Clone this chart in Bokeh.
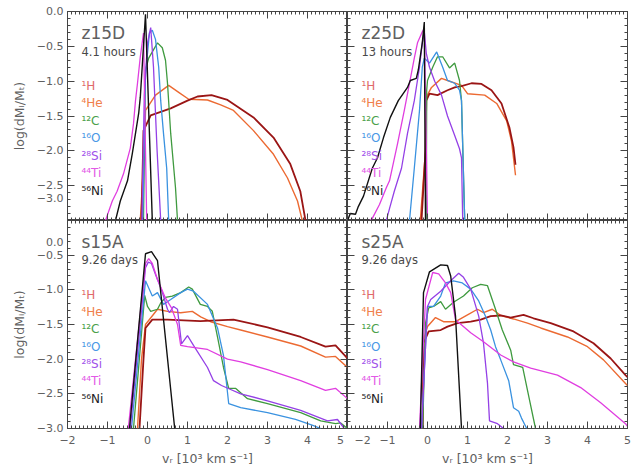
from bokeh.plotting import figure
from bokeh.layouts import gridplot
from bokeh.models import Range1d, LinearAxis, SingleIntervalTicker, CustomJSTickFormatter, Label
from bokeh.embed import file_html
from bokeh.resources import INLINE

# ---------------- data ----------------
species_labels = ["¹H", "⁴He", "¹²C", "¹⁶O", "²⁸Si", "⁴⁴Ti", "⁵⁶Ni"]
panel_names = ["z15D", "z25D", "s15A", "s25A"]
panel_times = ["4.1 hours", "13 hours", "9.26 days", "9.26 days"]

# z15D
z15d_h_v = [-0.15, -0.10, 0.08, 0.58, 1.0, 1.25, 1.6, 2.0, 2.65, 3.15, 3.57, 3.82, 3.95]
z15d_h_m = [-3.0, -1.71, -1.49, -1.39, -1.28, -1.22, -1.2, -1.27, -1.52, -1.81, -2.19, -2.58, -3.0]
z15d_he_v = [-0.18, -0.08, -0.05, 0.2, 0.53, 0.78, 1.03, 1.5, 1.83, 2.15, 2.65, 3.15, 3.5, 3.75, 3.87]
z15d_he_m = [-3.0, -2.0, -1.42, -1.2, -1.06, -1.16, -1.26, -1.27, -1.34, -1.42, -1.71, -2.05, -2.39, -2.72, -3.0]
z15d_c_v = [-0.10, -0.05, 0.03, 0.25, 0.37, 0.45, 0.5, 0.58, 0.7, 0.75]
z15d_c_m = [-3.0, -0.84, -0.67, -0.45, -0.52, -0.7, -1.03, -1.75, -2.53, -3.0]
z15d_o_v = [-0.12, -0.05, 0.05, 0.12, 0.2, 0.28, 0.33, 0.4, 0.48, 0.53]
z15d_o_m = [-3.0, -0.9, -0.3, -0.27, -0.4, -0.8, -1.28, -1.75, -2.25, -3.0]
z15d_si_v = [-0.14, -0.08, 0.0, 0.08, 0.15, 0.24, 0.33]
z15d_si_m = [-3.0, -1.2, -0.45, -0.23, -0.8, -2.0, -3.0]
z15d_ti_v = [-1.05, -0.88, -0.76, -0.6, -0.43, -0.35, -0.3, -0.25, -0.18, -0.1, -0.02]
z15d_ti_m = [-3.0, -2.72, -2.58, -2.33, -1.96, -1.61, -1.28, -1.03, -0.65, -0.31, -3.0]
z15d_ni_v = [-0.8, -0.68, -0.5, -0.38, -0.3, -0.22, -0.18, -0.05, 0.12]
z15d_ni_m = [-3.0, -2.72, -2.43, -2.04, -1.75, -1.46, -1.23, -0.04, -3.0]

# z25D
z25d_h_v = [-0.15, -0.05, -0.03, 0.05, 0.25, 0.5, 0.68, 0.85, 1.1, 1.35, 1.6, 1.85, 2.05, 2.15, 2.2]
z25d_h_m = [-3.0, -2.0, -1.28, -1.18, -1.2, -1.13, -1.09, -1.07, -1.03, -1.04, -1.13, -1.32, -1.67, -1.95, -2.2]
z25d_he_v = [-0.18, -0.05, -0.03, 0.1, 0.35, 0.5, 0.85, 1.0, 1.43, 1.73, 1.98, 2.1, 2.15, 2.2]
z25d_he_m = [-3.0, -2.0, -1.23, -1.09, -0.96, -0.99, -1.06, -1.18, -1.2, -1.32, -1.57, -1.86, -2.1, -2.35]
z25d_c_v = [-0.03, -0.02, 0.0, 0.13, 0.25, 0.38, 0.55, 0.68, 0.8, 0.85, 0.93]
z25d_c_m = [-3.0, -1.13, -0.99, -0.8, -0.65, -0.65, -0.81, -0.74, -0.99, -1.28, -3.0]
z25d_o_v = [-0.45, -0.33, -0.2, -0.13, -0.08, 0.05, 0.23, 0.38, 0.5, 0.68, 0.8, 0.85, 0.93]
z25d_o_m = [-3.0, -2.25, -1.42, -0.8, -0.67, -0.74, -0.58, -0.8, -0.99, -1.03, -1.13, -1.28, -3.0]
z25d_si_v = [-1.03, -0.95, -0.83, -0.65, -0.5, -0.33, -0.2, -0.13, -0.08, -0.03, 0.05, 0.18, 0.35, 0.5, 0.68, 0.8, 0.85, 0.88]
z25d_si_m = [-3.0, -2.83, -2.58, -2.25, -1.75, -1.28, -0.8, -0.45, -0.29, -0.6, -0.8, -1.0, -1.2, -1.5, -1.78, -1.97, -2.1, -3.0]
z25d_ti_v = [-1.45, -1.38, -1.2, -1.03, -0.95, -0.75, -0.58, -0.45, -0.33, -0.25, -0.13, -0.08, 0.0]
z25d_ti_m = [-3.0, -2.97, -2.77, -2.53, -2.43, -1.9, -1.42, -1.03, -0.67, -0.45, -0.29, -0.24, -3.0]
z25d_ni_v = [-2.0, -1.93, -1.8, -1.73, -1.6, -1.38, -1.25, -1.1, -0.93, -0.73, -0.5, -0.43, -0.28, -0.23, -0.13, -0.08, -0.05]
z25d_ni_m = [-3.0, -2.9, -2.91, -2.8, -2.65, -2.25, -2.1, -1.81, -1.52, -1.28, -1.09, -0.99, -0.96, -0.84, -0.45, -0.15, -3.0]

# s15A
s15a_h_v = [-0.2, -0.1, -0.05, 0.12, 0.5, 1.32, 2.15, 3.0, 3.83, 4.45, 4.7, 5.0]
s15a_h_m = [-3.0, -2.0, -1.55, -1.43, -1.43, -1.45, -1.43, -1.54, -1.68, -1.82, -1.8, -1.99]
s15a_he_v = [-0.25, -0.15, -0.05, 0.25, 0.5, 0.83, 1.12, 1.33, 1.58, 2.0, 2.33, 3.0, 3.83, 4.45, 4.7, 5.0]
s15a_he_m = [-3.0, -2.0, -1.5, -1.28, -1.31, -1.33, -1.31, -1.39, -1.46, -1.53, -1.58, -1.68, -1.81, -1.97, -1.96, -2.12]
s15a_c_v = [-0.35, -0.07, 0.0, 0.08, 0.25, 0.33, 0.45, 0.62, 0.83, 1.03, 1.12, 1.32, 1.5, 1.62, 1.75, 1.9, 2.03, 2.2, 2.5, 3.0, 3.83, 4.33, 4.7, 4.83, 5.0]
s15a_c_m = [-3.0, -1.08, -1.24, -1.31, -1.28, -1.19, -1.11, -1.09, -1.04, -0.96, -0.99, -1.21, -1.24, -1.31, -1.68, -2.12, -2.42, -2.42, -2.57, -2.64, -2.77, -2.89, -2.93, -2.92, -3.0]
s15a_o_v = [-0.4, -0.05, 0.12, 0.25, 0.4, 0.58, 0.83, 1.0, 1.15, 1.5, 1.75, 1.9, 2.03, 2.33, 3.0, 3.7, 4.15, 4.33]
s15a_o_m = [-3.0, -0.87, -1.09, -1.04, -1.21, -1.14, -1.04, -0.99, -1.02, -1.21, -1.55, -1.95, -2.64, -2.7, -2.77, -2.87, -2.96, -3.0]
s15a_si_v = [-0.43, -0.05, 0.02, 0.1, 0.2, 0.35, 0.5, 0.55, 0.65, 0.75, 0.85, 1.0, 1.15, 1.5, 1.65, 1.85, 2.05, 2.33, 3.0, 3.83, 4.5, 4.75, 4.92]
s15a_si_m = [-3.0, -0.68, -0.6, -0.62, -0.78, -1.0, -1.28, -1.33, -1.24, -1.28, -1.78, -1.66, -1.8, -2.12, -2.31, -2.38, -2.43, -2.5, -2.6, -2.74, -2.89, -2.87, -3.0]
s15a_ti_v = [-0.48, -0.05, 0.03, 0.12, 0.25, 0.45, 0.6, 0.75, 0.83, 1.0, 1.5, 2.0, 2.33, 3.0, 3.83, 4.45, 4.7, 5.0]
s15a_ti_m = [-3.0, -0.62, -0.55, -0.62, -0.85, -1.12, -1.26, -1.5, -1.8, -1.82, -1.86, -2.0, -2.04, -2.15, -2.31, -2.45, -2.42, -2.57]
s15a_ni_v = [-0.45, -0.05, 0.1, 0.25, 0.68]
s15a_ni_m = [-3.0, -0.48, -0.45, -0.58, -3.0]

# s25A
s25a_h_v = [-0.12, -0.1, 0.03, 0.33, 0.5, 0.75, 1.08, 1.33, 1.58, 1.83, 2.08, 2.4, 2.65, 3.08, 3.65, 4.15, 4.58, 4.95, 5.0]
s25a_h_m = [-3.0, -1.77, -1.6, -1.58, -1.53, -1.48, -1.46, -1.43, -1.38, -1.37, -1.4, -1.36, -1.41, -1.48, -1.6, -1.77, -1.99, -2.23, -2.26]
s25a_he_v = [-0.12, -0.1, 0.0, 0.2, 0.4, 0.7, 1.0, 1.25, 1.4, 1.62, 1.83, 2.15, 2.5, 2.83, 3.5, 4.0, 4.4, 4.95, 5.0]
s25a_he_m = [-3.0, -1.72, -1.53, -1.4, -1.46, -1.46, -1.36, -1.28, -1.33, -1.28, -1.37, -1.42, -1.48, -1.55, -1.68, -1.82, -2.01, -2.35, -2.38]
s25a_c_v = [-0.12, -0.05, 0.03, 0.15, 0.33, 0.45, 0.65, 0.9, 1.12, 1.33, 1.5, 1.7, 1.87, 2.08, 2.15, 2.38, 2.5, 2.7]
s25a_c_m = [-3.0, -1.48, -1.26, -1.24, -1.17, -1.28, -1.18, -1.09, -0.97, -0.92, -0.94, -1.28, -1.58, -1.87, -2.08, -2.12, -2.45, -3.0]
s25a_o_v = [-0.15, 0.0, 0.15, 0.33, 0.45, 0.65, 0.87, 1.08, 1.28, 1.45, 1.58, 1.7, 1.83, 2.03, 2.15, 2.28, 2.35, 2.48]
s25a_o_m = [-3.0, -1.24, -1.24, -1.09, -0.9, -0.87, -0.9, -0.99, -1.16, -1.38, -1.58, -1.82, -2.01, -2.31, -2.7, -2.75, -2.85, -3.0]
s25a_si_v = [-0.15, 0.0, 0.08, 0.33, 0.58, 0.78, 0.9, 1.08, 1.28, 1.4, 1.5, 1.55, 1.75, 1.9]
s25a_si_m = [-3.0, -1.24, -1.14, -1.02, -0.87, -0.76, -0.82, -0.99, -1.38, -1.77, -2.35, -2.89, -2.93, -3.0]
s25a_ti_v = [-0.2, -0.05, 0.13, 0.28, 0.45, 0.58, 0.7, 1.08, 1.4, 1.83, 2.15, 2.58, 3.25, 3.83, 4.33, 4.95, 5.0]
s25a_ti_m = [-3.0, -1.14, -0.75, -0.77, -0.9, -1.04, -1.43, -1.62, -1.75, -1.94, -2.04, -2.13, -2.23, -2.41, -2.63, -2.93, -2.97]
s25a_ni_v = [-0.18, -0.1, 0.05, 0.33, 0.5, 0.58, 0.7, 0.85]
s25a_ni_m = [-3.0, -1.04, -0.74, -0.64, -0.65, -0.8, -1.38, -3.0]

# ---------------- styling ----------------
line_colors = ["#9a1515", "#ec6a32", "#3f9a3f", "#3a92e0", "#9440e6", "#e03ee0", "#111111"]
label_colors = ["#e06a6a", "#f0804a", "#4aa04a", "#4a98e6", "#a050ea", "#e25ae6", "#222222"]
line_widths = [1.8, 1.4, 1.3, 1.3, 1.3, 1.3, 1.4]
FONT = "DejaVu Sans"
GREY = "#606060"

panels_data = [
    [(z15d_h_v, z15d_h_m), (z15d_he_v, z15d_he_m), (z15d_c_v, z15d_c_m), (z15d_o_v, z15d_o_m),
     (z15d_si_v, z15d_si_m), (z15d_ti_v, z15d_ti_m), (z15d_ni_v, z15d_ni_m)],
    [(z25d_h_v, z25d_h_m), (z25d_he_v, z25d_he_m), (z25d_c_v, z25d_c_m), (z25d_o_v, z25d_o_m),
     (z25d_si_v, z25d_si_m), (z25d_ti_v, z25d_ti_m), (z25d_ni_v, z25d_ni_m)],
    [(s15a_h_v, s15a_h_m), (s15a_he_v, s15a_he_m), (s15a_c_v, s15a_c_m), (s15a_o_v, s15a_o_m),
     (s15a_si_v, s15a_si_m), (s15a_ti_v, s15a_ti_m), (s15a_ni_v, s15a_ni_m)],
    [(s25a_h_v, s25a_h_m), (s25a_he_v, s25a_he_m), (s25a_c_v, s25a_c_m), (s25a_o_v, s25a_o_m),
     (s25a_si_v, s25a_si_m), (s25a_ti_v, s25a_ti_m), (s25a_ni_v, s25a_ni_m)],
]
draw_order = [1, 0, 2, 3, 4, 5, 6]

# tick labels that sit on an edge shared by two panels are nudged inside their own panel
fmt_code = r"""
var s = (tick < -1e-6 ? '\u2212' : '') + Math.abs(tick).toFixed(digits);
if (Math.abs(tick - edge) < 1e-6) {
  if (mode == 'up') { return s + '\n\u00a0'; }
  if (mode == 'down') { return '\u00a0\n' + s; }
  if (mode == 'left') { return s + '\u00a0'; }
  if (mode == 'right') { return '\u00a0\u00a0' + s; }
}
return s;
"""


def make_axis(dim, show_labels, axis_label=None, edge=99.0, mode="none"):
    if dim == "x":
        ticker = SingleIntervalTicker(interval=1, num_minor_ticks=10)
        digits = 0
    else:
        ticker = SingleIntervalTicker(interval=0.5, num_minor_ticks=5)
        digits = 1
    fmt = CustomJSTickFormatter(code=fmt_code, args=dict(edge=edge, mode=mode, digits=digits))
    ax = LinearAxis(ticker=ticker, formatter=fmt,
                    major_tick_in=7, major_tick_out=0, minor_tick_in=3, minor_tick_out=0,
                    axis_line_color=None, major_tick_line_color="#444444",
                    minor_tick_line_color="#444444", major_tick_line_width=1, minor_tick_line_width=1)
    if show_labels:
        ax.major_label_text_font = FONT
        ax.major_label_text_font_size = "11px"
        ax.major_label_text_color = GREY
        ax.major_label_standoff = 5 if dim == "x" else 4
        if axis_label:
            ax.axis_label = axis_label
            ax.axis_label_text_font = FONT
            ax.axis_label_text_font_size = "12.5px"
            ax.axis_label_text_font_style = "normal"
            ax.axis_label_text_color = GREY
            ax.axis_label_standoff = 1 if dim == "x" else 7
    else:
        ax.major_label_text_font_size = "0px"
        ax.major_label_standoff = 0
        ax.major_label_text_alpha = 0
    return ax


def make_panel(idx):
    row, col = divmod(idx, 2)
    is_left = col == 0
    is_bottom = row == 1
    p = figure(frame_width=280, frame_height=208 if is_bottom else 209,
               x_range=Range1d(-2, 5), y_range=Range1d(-3, 0),
               x_axis_type=None, y_axis_type=None,
               output_backend="svg", toolbar_location=None,
               min_border_left=67 if is_left else 0,
               min_border_right=0 if is_left else 7,
               min_border_top=0 if is_bottom else 11,
               min_border_bottom=36 if is_bottom else 0,
               background_fill_color="white", border_fill_color="white",
               outline_line_color="#444444", outline_line_width=1)

    if is_left:
        xedge, xmode = 5.0, "left"
    else:
        xedge, xmode = -2.0, "right"
    if is_bottom:
        yedge, ymode = 0.0, "down"
    else:
        yedge, ymode = -3.0, "up"

    p.add_layout(make_axis("x", is_bottom, "vᵣ [10³ km s⁻¹]", edge=xedge, mode=xmode), "below")
    p.add_layout(make_axis("x", False), "above")
    p.add_layout(make_axis("y", is_left, "log(dMᵢ/Mₜ)", edge=yedge, mode=ymode), "left")
    p.add_layout(make_axis("y", False), "right")

    for k in draw_order:
        v, m = panels_data[idx][k]
        p.line(v, m, line_color=line_colors[k], line_width=line_widths[k])

    xt = -1.65
    p.add_layout(Label(x=xt, y=-0.31, text=panel_names[idx], text_font=FONT,
                       text_font_size="17px", text_color=GREY, text_baseline="middle"))
    p.add_layout(Label(x=xt, y=-0.575, text=panel_times[idx], text_font=FONT,
                       text_font_size="11.5px", text_color="#484848", text_baseline="middle"))
    for k, lab in enumerate(species_labels):
        p.add_layout(Label(x=xt, y=-1.07 - 0.25 * k, text=lab, text_font=FONT,
                           text_font_size="12px", text_color=label_colors[k],
                           text_baseline="middle"))
    return p


figs = [make_panel(i) for i in range(4)]
grid = gridplot([[figs[0], figs[1]], [figs[2], figs[3]]], toolbar_location=None)

open("out.html", "w").write(file_html(grid, INLINE))
